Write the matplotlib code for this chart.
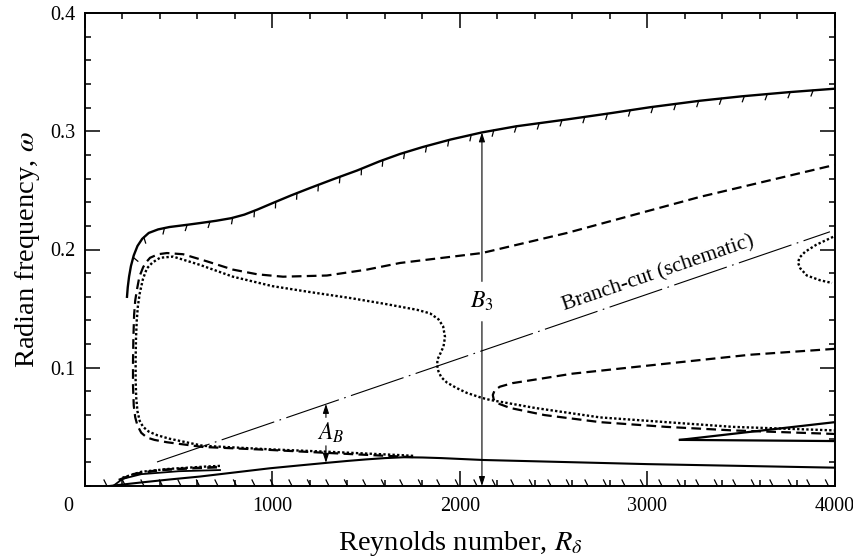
import numpy as np
import matplotlib.pyplot as plt
import matplotlib.transforms as mtransforms
from matplotlib.ticker import MultipleLocator

plt.rcParams['font.family'] = ['Liberation Serif', 'DejaVu Serif']
plt.rcParams['mathtext.fontset'] = 'stix'
plt.rcParams['lines.scale_dashes'] = False

# upper neutral curve (solid, hatched underneath)
upper_R = [224, 228, 235, 245, 260, 280, 305, 340, 390, 450, 550, 620, 700, 780, 850,
           920, 1000, 1100, 1200, 1330, 1451, 1570, 1680, 1800, 1950, 2117, 2300, 2571,
           2800, 3013, 3280, 3500, 3750, 4000]
upper_w = [0.160, 0.168, 0.177, 0.186, 0.195, 0.203, 0.209, 0.214, 0.217, 0.219, 0.221,
           0.2225, 0.2243, 0.2265, 0.2295, 0.2338, 0.2392, 0.2458, 0.252, 0.2598,
           0.2668, 0.2745, 0.2808, 0.2866, 0.2930, 0.299, 0.3042, 0.3100, 0.3152,
           0.3203, 0.3258, 0.3295, 0.3330, 0.336]

# lower neutral curve (solid)
lower_R = [130, 300, 450, 613, 800, 987, 1150, 1290, 1400, 1500, 1600, 1700, 1800,
           1900, 2123, 2500, 3000, 3500, 4000]
lower_w = [0.0, 0.003, 0.0055, 0.008, 0.0115, 0.015, 0.0175, 0.0196, 0.0212, 0.0225,
           0.0236, 0.0243, 0.0241, 0.0236, 0.022, 0.0205, 0.0185, 0.017, 0.0155]

# outer dashed loop
dash1_R = [1750, 1696, 1290, 987, 629, 437, 370, 330, 300, 280, 268, 260, 256, 256,
           258, 262, 268, 277, 290, 310, 325, 347, 390, 437, 523, 650, 789, 920, 1056,
           1290, 1504, 1680, 2117, 2571, 3280, 4000]
dash1_w = [0.0245, 0.0248, 0.028, 0.0305, 0.033, 0.037, 0.039, 0.041, 0.045, 0.051,
           0.058, 0.068, 0.085, 0.105, 0.125, 0.145, 0.157, 0.166, 0.177, 0.185, 0.189,
           0.193, 0.196, 0.197, 0.196, 0.190, 0.183, 0.179, 0.177, 0.178, 0.183,
           0.1886, 0.197, 0.214, 0.2445, 0.2716]

# dotted curve with the S-bend
dot1_R = [1750, 1696, 1290, 987, 629, 450, 384, 340, 310, 292, 280, 273, 270, 270,
          272, 276, 282, 292, 309, 330, 360, 400, 470, 613, 789, 1000, 1200, 1413,
          1600, 1771, 1840, 1885, 1910, 1920, 1912, 1895, 1880, 1878, 1885, 1900, 1930,
          1980, 2037, 2117, 2160, 2400, 2747, 3100, 3456, 4000]
dot1_w = [0.0255, 0.026, 0.029, 0.031, 0.034, 0.040, 0.043, 0.046, 0.050, 0.055,
          0.063, 0.075, 0.090, 0.107, 0.125, 0.140, 0.152, 0.163, 0.175, 0.184, 0.189,
          0.193, 0.194, 0.187, 0.177, 0.169, 0.164, 0.159, 0.154, 0.149, 0.146, 0.141,
          0.135, 0.126, 0.118, 0.112, 0.107, 0.102, 0.097, 0.092, 0.0875, 0.083,
          0.0787, 0.0745, 0.0728, 0.066, 0.058, 0.054, 0.050, 0.047]

# inner dashed loop on the right
dash2_R = [4000, 3547, 3013, 2600, 2389, 2280, 2213, 2185, 2175, 2180, 2200, 2267,
           2450, 2747, 3100, 3456, 4000]
dash2_w = [0.116, 0.111, 0.102, 0.095, 0.0897, 0.087, 0.084, 0.081, 0.077, 0.073,
           0.070, 0.066, 0.060, 0.054, 0.050, 0.047, 0.044]

# small dotted loop at the top right
dot2_R = [3990, 3900, 3840, 3810, 3803, 3815, 3850, 3920, 3984]
dot2_w = [0.2107, 0.204, 0.198, 0.193, 0.1887, 0.184, 0.178, 0.174, 0.1717]

# wedge of solid curves at large R
wedge_R = [3173, 4000]
wedge_hi = [0.039, 0.054]
wedge_lo = [0.039, 0.038]

# short branches near the origin
band_solid_R = [150, 200, 300, 500, 720]
band_solid_w = [0.0, 0.006, 0.010, 0.0125, 0.0135]
band_dash_R = [180, 260, 400, 560, 720]
band_dash_w = [0.005, 0.010, 0.0135, 0.015, 0.016]
band_dot_R = [200, 300, 450, 650, 720]
band_dot_w = [0.007, 0.012, 0.0145, 0.0165, 0.017]

# branch cut end points
cut_R = [384, 3973]
cut_w = [0.0203, 0.215]

# measured gaps
B3_R, B3_top = 2117, 0.299
AB_R, AB_top, AB_bot = 1285, 0.0694, 0.0196

fig = plt.figure(figsize=(8.54, 5.57), dpi=100)
ax = fig.add_axes([85 / 854, 1 - 486 / 557, 750 / 854, 473 / 557])
ax.set_xlim(0, 4000)
ax.set_ylim(0, 0.4)

DASH = (0, (7.0, 3.8))
DOT = (0, (1.7, 1.6))

ax.plot(upper_R, upper_w, color='k', lw=1.7)
ax.plot(lower_R, lower_w, color='k', lw=1.5)
ax.plot(dash1_R, dash1_w, color='k', lw=1.6, linestyle=DASH)
ax.plot(dot1_R, dot1_w, color='k', lw=1.7, linestyle=DOT)
ax.plot(dash2_R, dash2_w, color='k', lw=1.6, linestyle=DASH)
ax.plot(dot2_R, dot2_w, color='k', lw=1.7, linestyle=DOT)
ax.plot(wedge_R, wedge_hi, color='k', lw=1.6)
ax.plot(wedge_R, wedge_lo, color='k', lw=1.6)
ax.plot(band_solid_R, band_solid_w, color='k', lw=1.3)
ax.plot(band_dash_R, band_dash_w, color='k', lw=1.9, linestyle=DASH)
ax.plot(band_dot_R, band_dot_w, color='k', lw=1.7, linestyle=DOT)
ax.plot(cut_R, cut_w, color='k', lw=0.8, linestyle=(0, (40, 4, 1.2, 4)))


def hatch(ax, xs, ys, spacing=23, length=6, tilt=25, start=0):
    """Short marks hanging under a curve, spaced evenly along it in pixels."""
    pts = ax.transData.transform(np.column_stack([xs, ys]))
    seg = np.diff(pts, axis=0)
    seglen = np.hypot(seg[:, 0], seg[:, 1])
    s = np.concatenate([[0], np.cumsum(seglen)])
    a = np.deg2rad(tilt)
    inv = ax.transData.inverted()
    for d in np.arange(start, s[-1], spacing):
        i = min(np.searchsorted(s, d, side='right') - 1, len(seg) - 1)
        f = (d - s[i]) / seglen[i]
        p = pts[i] + f * seg[i]
        t = seg[i] / seglen[i]
        n = np.array([t[1], -t[0]])
        v = n * np.cos(a) - t * np.sin(a)
        q = inv.transform([p, p + length * v])
        ax.plot(q[:, 0], q[:, 1], color='k', lw=0.9)


hatch(ax, upper_R, upper_w, spacing=23, length=6, start=40)

# marks along the R axis
base = ax.transData.transform([[0, 0], [4000, 0]])
inv = ax.transData.inverted()
for px in np.arange(base[0, 0] + 22, base[1, 0] - 4, 18.5):
    q = inv.transform([[px, base[0, 1]], [px - 3, base[0, 1] + 6]])
    ax.plot(q[:, 0], q[:, 1], color='k', lw=0.9)

# branch-cut label, rotated to follow the line
p0, p1 = ax.transData.transform([[cut_R[0], cut_w[0]], [cut_R[1], cut_w[1]]])
angle = np.degrees(np.arctan2(p1[1] - p0[1], p1[0] - p0[0]))
ax.text(2560, 0.148, 'Branch-cut (schematic)', rotation=angle, rotation_mode='anchor',
        ha='left', va='baseline', fontsize=15.5)

arrow = dict(arrowstyle='-|>,head_length=0.55,head_width=0.18', color='k', lw=0.8,
             shrinkA=0, shrinkB=0)

# B3 bar
ax.annotate('', xy=(B3_R, B3_top), xytext=(B3_R, 0.173), arrowprops=arrow)
ax.annotate('', xy=(B3_R, 0.0), xytext=(B3_R, 0.139), arrowprops=arrow)
ax.text(B3_R, 0.156, r'$B_3$', ha='center', va='center', fontsize=17)

# A_B bar
ax.annotate('', xy=(AB_R, AB_top), xytext=(AB_R, 0.058), arrowprops=arrow)
ax.annotate('', xy=(AB_R, AB_bot), xytext=(AB_R, 0.034), arrowprops=arrow)
ax.text(AB_R + 25, 0.045, r'$A_B$', ha='center', va='center', fontsize=17)

# axes, ticks
for sp in ax.spines.values():
    sp.set_linewidth(1.4)
ax.xaxis.set_major_locator(MultipleLocator(1000))
ax.xaxis.set_minor_locator(MultipleLocator(200))
ax.yaxis.set_major_locator(MultipleLocator(0.1))
ax.yaxis.set_minor_locator(MultipleLocator(0.02))
ax.tick_params(which='both', direction='in', top=True, right=True, width=1.1)
ax.tick_params(which='major', length=11, labelsize=14.5)
ax.tick_params(which='minor', length=4.5)
ax.tick_params(axis='x', which='major', pad=8)
ax.tick_params(axis='y', which='major', pad=7)

ax.set_yticks([0.1, 0.2, 0.3, 0.4])
ax.set_yticklabels(['0.1', '0.2', '0.3', '0.4'])
ax.set_xticks([0, 1000, 2000, 3000, 4000])
ax.set_xticklabels(['0', '1000', '2000', '3000', '4000'])
shift = mtransforms.ScaledTranslation(-17 / 100, 0, fig.dpi_scale_trans)
lab0 = ax.get_xticklabels()[0]
lab0.set_transform(lab0.get_transform() + shift)

ax.set_xlabel(r'Reynolds number, $R_\delta$', fontsize=20.5, labelpad=9)
ax.set_ylabel(r'Radian frequency, $\omega$', fontsize=20.5, labelpad=6)

fig.savefig('out.png', dpi=100)
